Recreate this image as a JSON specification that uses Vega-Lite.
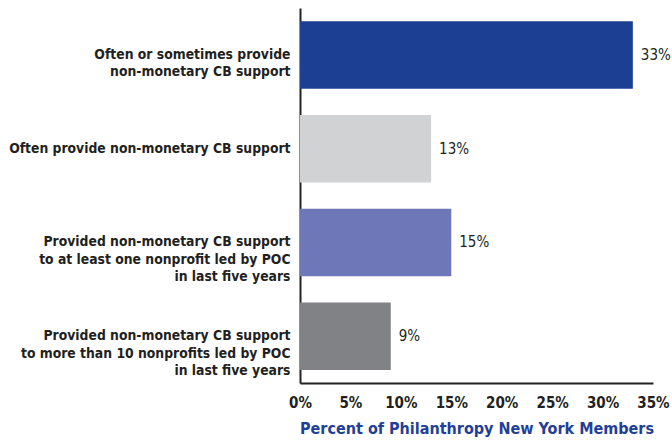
{
  "$schema": "https://vega.github.io/schema/vega-lite/v6.json",
  "autosize": {"type": "none"},
  "width": 353,
  "height": 375,
  "padding": {"left": 300, "top": 8, "right": 19, "bottom": 61},
  "background": "white",
  "config": {
    "view": {"stroke": null},
    "font": "DejaVu Sans Condensed, sans-serif"
  },
  "data": {
    "values": [
      {"label": "Often or sometimes provide|non-monetary CB support", "value": 33, "text": "33%", "key": "a"},
      {"label": "Often provide non-monetary CB support", "value": 13, "text": "13%", "key": "b"},
      {"label": "Provided non-monetary CB support|to at least one nonprofit led by POC|in last five years", "value": 15, "text": "15%", "key": "c"},
      {"label": "Provided non-monetary CB support|to more than 10 nonprofits led by POC|in last five years", "value": 9, "text": "9%", "key": "d"}
    ]
  },
  "encoding": {
    "y": {
      "field": "label",
      "type": "nominal",
      "sort": null,
      "scale": {"paddingInner": 0.28, "paddingOuter": 0.14},
      "axis": {
        "title": null,
        "ticks": false,
        "domain": true,
        "domainColor": "#222222",
        "domainWidth": 2,
        "labelExpr": "split(datum.label, '|')",
        "labelFont": "DejaVu Sans Condensed, sans-serif",
        "labelFontSize": 13.8,
        "labelFontWeight": "bold",
        "labelColor": "#231f20",
        "labelLineHeight": 17.5,
        "labelPadding": 10,
        "labelLimit": 400
      }
    },
    "x": {
      "field": "value",
      "type": "quantitative",
      "scale": {"domain": [0, 35], "nice": false},
      "axis": {
        "values": [0, 5, 10, 15, 20, 25, 30, 35],
        "labelExpr": "datum.value + '%'",
        "grid": false,
        "ticks": false,
        "domainColor": "#222222",
        "domainWidth": 2,
        "labelFont": "DejaVu Sans Condensed, sans-serif",
        "labelFontSize": 15,
        "labelFontWeight": "bold",
        "labelColor": "#231f20",
        "labelPadding": 12,
        "labelFlush": false,
        "title": "Percent of Philanthropy New York Members",
        "titleFont": "DejaVu Sans Condensed, sans-serif",
        "titleFontSize": 16,
        "titleFontWeight": "bold",
        "titleColor": "#1f3f99",
        "titlePadding": 10
      }
    }
  },
  "layer": [
    {
      "mark": {"type": "bar"},
      "encoding": {
        "color": {
          "field": "key",
          "type": "nominal",
          "scale": {"domain": ["a", "b", "c", "d"], "range": ["#1c3f94", "#d1d2d4", "#6e77b7", "#818285"]},
          "legend": null
        }
      }
    },
    {
      "mark": {"type": "text", "align": "left", "dx": 8, "fontSize": 15, "color": "#231f20", "font": "DejaVu Sans Condensed, sans-serif"},
      "encoding": {"text": {"field": "text"}}
    }
  ]
}
